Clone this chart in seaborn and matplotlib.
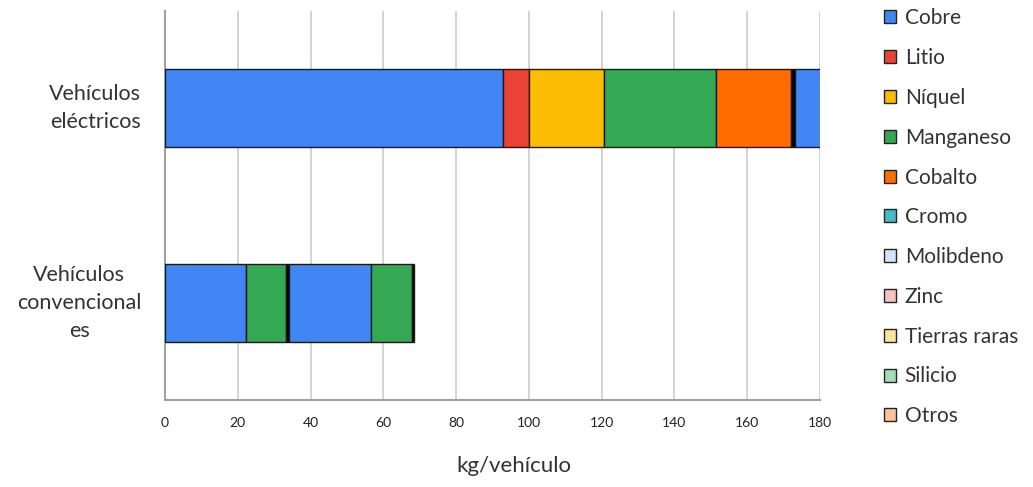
import matplotlib
matplotlib.use("Agg")
import matplotlib.pyplot as plt
from matplotlib.patches import Patch
import seaborn as sns

# ── datos ────────────────────────────────────────────────────────────────────
CATEGORIAS = ["Vehículos\neléctricos", "Vehículos\nconvencional\nes"]

# tramos de cada barra, tal como se ven (kg/vehículo)
EV_TRAMOS = [92.8, 7.3, 20.5, 30.8, 20.5, 1.2, 10.0]
CONV_TRAMOS = [22.3, 10.9, 1.0, 22.4, 11.3, 0.5]

MATERIALES = ["Cobre", "Litio", "Níquel", "Manganeso", "Cobalto", "Cromo",
              "Molibdeno", "Zinc", "Tierras raras", "Silicio", "Otros"]

X_TICKS = [0, 20, 40, 60, 80, 100, 120, 140, 160, 180]

# ── estilo ───────────────────────────────────────────────────────────────────
AZUL, ROJO, AMARILLO, VERDE, NARANJA = "#4285F4", "#EA4335", "#FBBC04", "#34A853", "#FF6D01"
EV_COLORES = [AZUL, ROJO, AMARILLO, VERDE, NARANJA, "#000000", AZUL]
CONV_COLORES = [AZUL, VERDE, "#000000", AZUL, VERDE, "#000000"]
LEYENDA_COLORES = [AZUL, ROJO, AMARILLO, VERDE, NARANJA, "#46BDC6",
                   "#D2E3FC", "#F6C5C2", "#FDE49B", "#A3DDB6", "#FFC29B"]

sns.set_theme(style="white")
plt.rcParams["font.family"] = ["Lato", "DejaVu Sans"]

fig = plt.figure(figsize=(10.33, 4.87), dpi=100)
ax = fig.add_axes([165 / 1033, 1 - 400 / 487, 655 / 1033, 389 / 487])

for fila, (tramos, colores) in enumerate([(EV_TRAMOS, EV_COLORES), (CONV_TRAMOS, CONV_COLORES)]):
    izquierda = 0
    for valor, color in zip(tramos, colores):
        ax.barh(fila, valor, left=izquierda, height=0.4, color=color,
                edgecolor="#1a1a1a", linewidth=1.0, zorder=3)
        izquierda += valor

ax.set_xlim(0, 180)
ax.set_ylim(1.5, -0.5)
ax.set_xticks(X_TICKS)
ax.set_xticklabels([str(t) for t in X_TICKS], fontsize=10, color="#222222")
ax.set_yticks([0, 1])
ax.set_yticklabels(CATEGORIAS, fontsize=15.5, color="#333333",
                   multialignment="center", linespacing=1.5, va="center")
ax.tick_params(axis="y", length=0, pad=17)
ax.tick_params(axis="x", length=0, pad=12)

ax.grid(axis="x", color="#cccccc", linewidth=1.2, zorder=0)
for lado in ["top", "right"]:
    ax.spines[lado].set_visible(False)
for lado in ["left", "bottom"]:
    ax.spines[lado].set_color("#a0a0a0")
    ax.spines[lado].set_linewidth(1.5)

ax.set_xlabel("kg/vehículo", fontsize=16, color="#333333")
ax.xaxis.set_label_coords(0.533, -0.145)

manejadores = [Patch(facecolor=c, edgecolor="#222222", linewidth=1.0) for c in LEYENDA_COLORES]
ax.legend(manejadores, MATERIALES, loc="upper left", bbox_to_anchor=(876 / 1033, 1.0),
          bbox_transform=fig.transFigure, frameon=False, fontsize=15,
          handlelength=0.58, handleheight=0.58, handletextpad=0.4, labelspacing=0.95,
          borderaxespad=0.0, labelcolor="#333333")

fig.savefig("out.png", dpi=100)
